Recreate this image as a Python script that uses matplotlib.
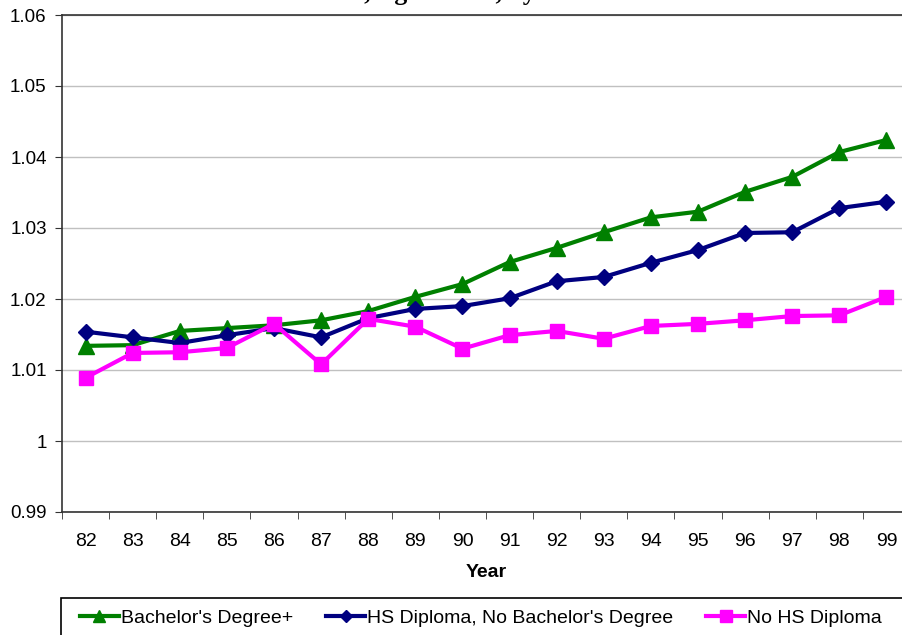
import matplotlib
matplotlib.use("Agg")
import matplotlib.pyplot as plt
from matplotlib.patches import Rectangle
from matplotlib.ticker import FuncFormatter

years = ["82", "83", "84", "85", "86", "87", "88", "89", "90",
         "91", "92", "93", "94", "95", "96", "97", "98", "99"]

bachelors = [1.0134, 1.0135, 1.0155, 1.0159, 1.0163, 1.0170, 1.0183, 1.0203, 1.0221,
             1.0252, 1.0272, 1.0294, 1.0315, 1.0323, 1.0351, 1.0372, 1.0407, 1.0424]
hs_diploma = [1.0154, 1.0146, 1.0138, 1.0149, 1.0159, 1.0146, 1.0173, 1.0186, 1.0190,
              1.0201, 1.0225, 1.0231, 1.0251, 1.0269, 1.0293, 1.0294, 1.0328, 1.0337]
no_hs = [1.0089, 1.0124, 1.0125, 1.0131, 1.0165, 1.0108, 1.0172, 1.0161, 1.0130,
         1.0149, 1.0155, 1.0144, 1.0162, 1.0165, 1.0170, 1.0176, 1.0177, 1.0203]

plt.rcParams["font.family"] = "Liberation Sans"

fig = plt.figure(figsize=(9.02, 6.35), dpi=100)
ax = fig.add_axes([62 / 902, 1 - 512 / 635, 848 / 902, 497 / 635])

x = list(range(len(years)))
ax.plot(x, bachelors, color="#008000", lw=3, marker="^", ms=11, zorder=3,
        label="Bachelor's Degree+")
ax.plot(x, hs_diploma, color="#000080", lw=3, marker="D", ms=8, zorder=4,
        label="HS Diploma, No Bachelor's Degree")
ax.plot(x, no_hs, color="#FF00FF", lw=3, marker="s", ms=10, zorder=5,
        label="No HS Diploma")

ax.set_xlim(-0.5, len(years) - 0.5)
ax.set_ylim(0.99, 1.06)
ax.set_yticks([0.99 + 0.01 * i for i in range(8)])
ax.yaxis.set_major_formatter(FuncFormatter(lambda v, p: "%g" % round(v, 2)))
ax.grid(axis="y", color="#c0c0c0", lw=1)
ax.set_axisbelow(True)

# category labels centred, tick marks on the boundaries
ax.set_xticks(x)
ax.set_xticklabels(years)
ax.tick_params(axis="x", length=0, labelsize=14, pad=15)
ax.set_xticks([i - 0.5 for i in range(len(years) + 1)], minor=True)
ax.tick_params(axis="x", which="minor", length=5, color="#333333")
ax.tick_params(axis="y", length=5, labelsize=13.5, pad=6, color="#333333")

for side in ["top", "bottom", "left"]:
    ax.spines[side].set_color("#333333")
    ax.spines[side].set_linewidth(1.2)
ax.spines["right"].set_visible(False)

ax.set_xlabel("Year", fontsize=14, fontweight="bold", labelpad=10)

# title sits above the top edge, only its descenders show
fig.text(0.24, 1.0, "Relative Rate, Ages 25-54, by Education",
         fontsize=18.5, fontweight="bold", family="Liberation Serif",
         ha="left", va="baseline")

fig.patches.append(Rectangle((61 / 902, -0.05), 0.98, 0.05 + 37 / 635,
                             transform=fig.transFigure, fill=False,
                             edgecolor="black", lw=1.2))
fig.legend(loc="center left", bbox_to_anchor=(80 / 902, 1 - 618 / 635),
           ncol=3, frameon=False, fontsize=14, handlelength=2.0,
           handletextpad=0.1, columnspacing=1.7, markerscale=0.8,
           borderaxespad=0, borderpad=0)

fig.savefig("out.png", dpi=100)
